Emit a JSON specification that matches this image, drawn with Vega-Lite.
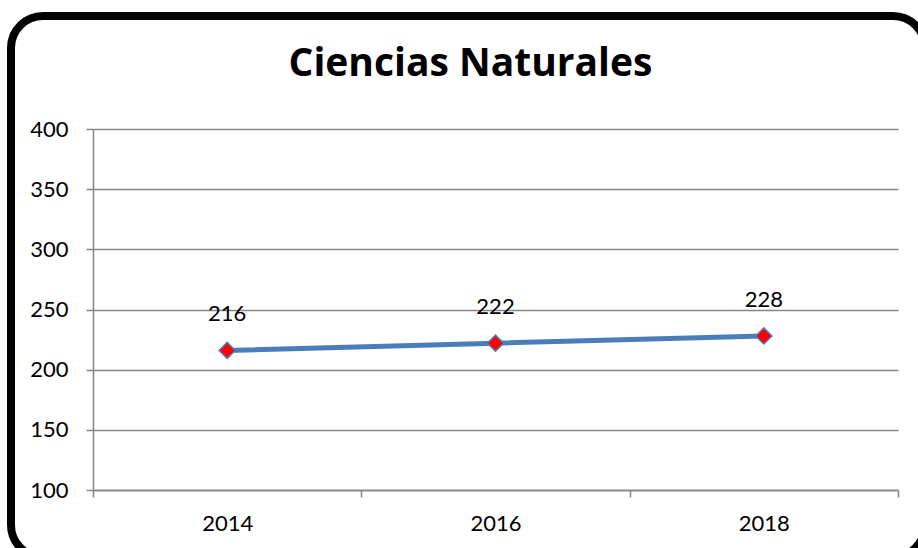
{
  "$schema": "https://vega.github.io/schema/vega-lite/v6.json",
  "width": 805,
  "height": 361,
  "autosize": {"type": "none"},
  "padding": {"left": 93, "top": 129, "right": 20, "bottom": 58},
  "background": "white",
  "config": {
    "view": {"stroke": null},
    "font": "Lato"
  },
  "title": {
    "text": "Ciencias Naturales",
    "font": "Open Sans",
    "fontSize": 39,
    "fontWeight": "bold",
    "color": "black",
    "anchor": "middle",
    "frame": "group",
    "baseline": "alphabetic",
    "offset": -103,
    "dx": -25
  },
  "data": {
    "values": [
      {"year": "2014", "value": 216},
      {"year": "2016", "value": 222},
      {"year": "2018", "value": 228}
    ]
  },
  "encoding": {
    "x": {
      "field": "year",
      "type": "ordinal",
      "scale": {"paddingInner": 0, "paddingOuter": 0},
      "axis": {
        "title": null,
        "labelAngle": 0,
        "labelFont": "Lato",
        "labelFontSize": 22,
        "labelColor": "black",
        "labelPadding": 16,
        "tickBand": "extent",
        "tickSize": 7,
        "tickColor": "#868686",
        "tickWidth": 1.5,
        "domainColor": "#868686",
        "domainWidth": 1.5,
        "grid": false
      }
    },
    "y": {
      "field": "value",
      "type": "quantitative",
      "scale": {"domain": [100, 400], "nice": false, "zero": false},
      "axis": {
        "title": null,
        "values": [100, 150, 200, 250, 300, 350, 400],
        "labelFont": "Lato",
        "labelFontSize": 22,
        "labelColor": "black",
        "labelPadding": 18,
        "tickSize": 7,
        "tickColor": "#868686",
        "tickWidth": 1.5,
        "domainColor": "#868686",
        "domainWidth": 1.5,
        "grid": true,
        "gridColor": "#868686",
        "gridWidth": 1.5
      }
    }
  },
  "layer": [
    {
      "data": {"values": [{"frame": 1}]},
      "mark": {
        "type": "rect",
        "fill": null,
        "stroke": "black",
        "strokeWidth": 8,
        "cornerRadius": 32,
        "clip": false
      },
      "encoding": {
        "x": {"value": -82},
        "x2": {"value": 832},
        "y": {"value": -113},
        "y2": {"value": 428}
      }
    },
    {
      "mark": {"type": "line", "color": "#4A7EBB", "strokeWidth": 5}
    },
    {
      "mark": {
        "type": "point",
        "shape": "diamond",
        "filled": true,
        "fill": "#FF0000",
        "stroke": "#4A7EBB",
        "strokeWidth": 1.5,
        "size": 260,
        "opacity": 1
      }
    },
    {
      "mark": {
        "type": "text",
        "font": "Lato",
        "fontSize": 22,
        "color": "black",
        "baseline": "alphabetic",
        "dy": -29
      },
      "encoding": {"text": {"field": "value", "type": "quantitative"}}
    }
  ]
}
